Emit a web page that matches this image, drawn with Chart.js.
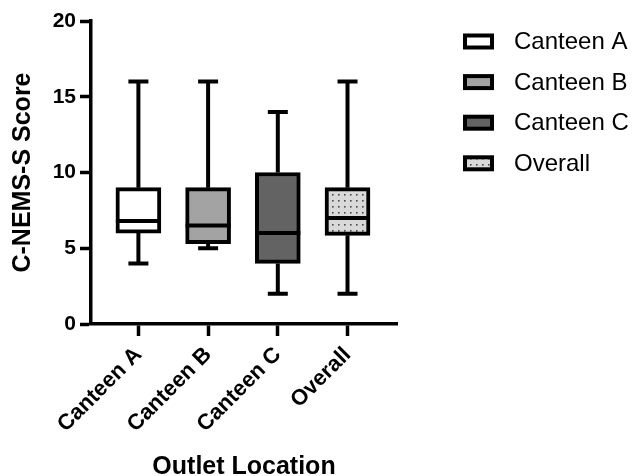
<!DOCTYPE html>
<html>
<head>
<meta charset="utf-8">
<script src="https://cdn.jsdelivr.net/npm/chart.js@4.4.1/dist/chart.umd.min.js"></script>
<style>
  html, body { margin: 0; padding: 0; background: #fff; }
  #wrap { width: 633px; height: 476px; }
</style>
</head>
<body>
<div id="wrap"><canvas id="box-chart" width="633" height="476"></canvas></div>
<script>
// Box plot values (C-NEMS-S score per outlet)
const categories = ['Canteen A', 'Canteen B', 'Canteen C', 'Overall'];
const minVals    = [4, 5, 2, 2];
const q1Vals     = [6, 5.3, 4, 5.85];
const medianVals = [6.8, 6.5, 6, 7];
const q3Vals     = [9, 9, 10, 9];
const maxVals    = [16, 16, 14, 16];
const yTicks     = [0, 5, 10, 15, 20];

const FONT = '"Liberation Sans", Arial, Helvetica, sans-serif';

// dotted fill used for the "Overall" box
function dotPattern() {
    const c = document.createElement('canvas');
    c.width = 6;
    c.height = 6;
    const g = c.getContext('2d');
    g.fillStyle = '#d9d9d9';
    g.fillRect(0, 0, 6, 6);
    g.fillStyle = '#4a4a4a';
    g.fillRect(2, 2, 1.6, 1.6);
    return g.createPattern(c, 'repeat');
}
const fills = ['#ffffff', '#a3a3a3', '#636363', dotPattern()];

// whiskers behind the boxes, median lines on top
const boxPlotLines = {
    id: 'boxPlotLines',
    beforeDatasetsDraw(chart) {
        const { ctx, scales: { x, y } } = chart;
        ctx.save();
        ctx.strokeStyle = '#000';
        ctx.lineWidth = 4;
        categories.forEach((c, i) => {
            const px = x.getPixelForValue(i);
            ctx.beginPath();
            ctx.moveTo(px, y.getPixelForValue(maxVals[i]));
            ctx.lineTo(px, y.getPixelForValue(q3Vals[i]));
            ctx.moveTo(px, y.getPixelForValue(q1Vals[i]));
            ctx.lineTo(px, y.getPixelForValue(minVals[i]));
            ctx.moveTo(px - 10, y.getPixelForValue(maxVals[i]));
            ctx.lineTo(px + 10, y.getPixelForValue(maxVals[i]));
            ctx.moveTo(px - 10, y.getPixelForValue(minVals[i]));
            ctx.lineTo(px + 10, y.getPixelForValue(minVals[i]));
            ctx.stroke();
        });
        ctx.restore();
    },
    afterDatasetsDraw(chart) {
        const { ctx, scales: { x, y } } = chart;
        ctx.save();
        ctx.strokeStyle = '#000';
        ctx.lineWidth = 4;
        categories.forEach((c, i) => {
            const px = x.getPixelForValue(i);
            const py = y.getPixelForValue(medianVals[i]);
            ctx.beginPath();
            ctx.moveTo(px - 22.5, py);
            ctx.lineTo(px + 22.5, py);
            ctx.stroke();
        });
        ctx.restore();
    }
};

// legend on the right, one swatch per outlet
const sideLegend = {
    id: 'sideLegend',
    afterDraw(chart) {
        const { ctx, chartArea } = chart;
        const left = chartArea.right + 66;
        ctx.save();
        ctx.font = '24px ' + FONT;
        ctx.textBaseline = 'middle';
        ctx.fillStyle = '#000';
        categories.forEach((c, i) => {
            const cy = chartArea.top + 20.5 + i * 40.6;
            ctx.fillStyle = fills[i];
            ctx.fillRect(left + 2, cy - 6, 27, 12);
            ctx.strokeStyle = '#000';
            ctx.lineWidth = 4;
            ctx.strokeRect(left + 2, cy - 6, 27, 12);
            ctx.fillStyle = '#000';
            ctx.fillText(c, left + 51, cy + 1);
        });
        ctx.restore();
    }
};

const ctx = document.getElementById('box-chart').getContext('2d');

new Chart(ctx, {
    type: 'bar',
    data: {
        datasets: [{
            label: 'IQR',
            data: categories.map((c, i) => ({ x: i, y: [q1Vals[i], q3Vals[i]] })),
            backgroundColor: fills,
            borderColor: '#000',
            borderWidth: 4,
            borderSkipped: false,
            barThickness: 45
        }]
    },
    options: {
        responsive: false,
        animation: false,
        layout: { padding: { top: 12, right: 236, bottom: 0, left: 0 } },
        plugins: {
            tooltip: { enabled: false },
            legend: { display: false }
        },
        scales: {
            x: {
                type: 'linear',
                offset: false,
                min: -0.68,
                max: 3.71,
                afterBuildTicks: s => { s.ticks = categories.map((c, i) => ({ value: i })); },
                afterFit: s => { s.height = 152; s.paddingLeft = 0; s.paddingRight = 0; },
                grid: { offset: false, drawOnChartArea: false, color: '#000', tickLength: 12, tickWidth: 3.5 },
                border: { color: '#000', width: 3.5 },
                ticks: {
                    color: '#000',
                    font: { family: FONT, size: 22, weight: 'bold' },
                    minRotation: 45,
                    maxRotation: 45,
                    padding: 6,
                    callback: v => categories[v]
                },
                title: {
                    display: true,
                    text: 'Outlet Location',
                    color: '#000',
                    font: { family: FONT, size: 25, weight: 'bold', lineHeight: 1 },
                    padding: { top: 0, bottom: -4 }
                }
            },
            y: {
                min: 0,
                max: 20,
                afterBuildTicks: s => { s.ticks = yTicks.map(v => ({ value: v })); },
                afterFit: s => { s.width = 91; s.paddingTop = 21; },
                grid: { drawOnChartArea: false, color: '#000', tickLength: 11, tickWidth: 3.5 },
                border: { color: '#000', width: 3.5 },
                ticks: {
                    color: '#000',
                    font: { family: FONT, size: 21, weight: 'bold' },
                    padding: 4
                },
                title: {
                    display: true,
                    text: 'C-NEMS-S Score',
                    color: '#000',
                    font: { family: FONT, size: 25, weight: 'bold', lineHeight: 1 },
                    padding: { top: 11, bottom: 0 }
                }
            }
        }
    },
    plugins: [boxPlotLines, sideLegend]
});
</script>
</body>
</html>
